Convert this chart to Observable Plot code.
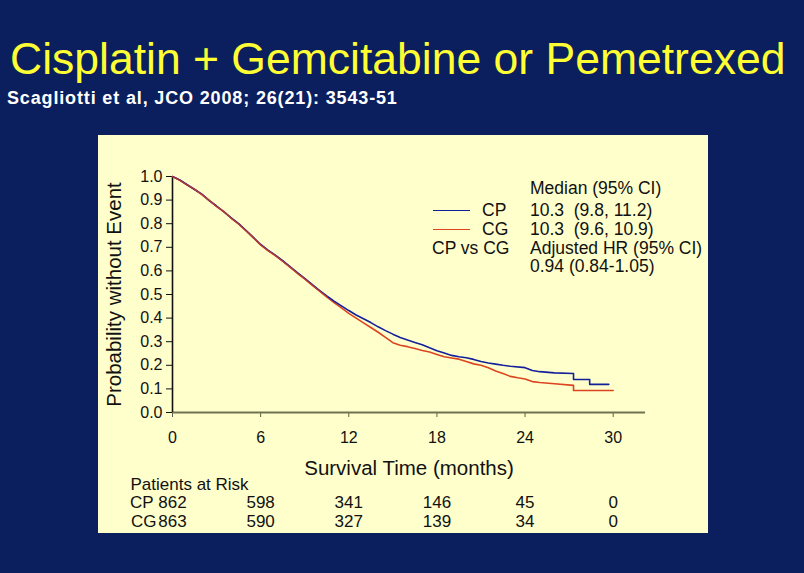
<!DOCTYPE html>
<html>
<head>
<meta charset="utf-8">
<script src="https://cdn.jsdelivr.net/npm/d3@7"></script>
<script src="https://cdn.jsdelivr.net/npm/@observablehq/plot@0.6"></script>
<style>
  html, body { margin: 0; padding: 0; }
  body { width: 804px; height: 573px; background: #0b1f5e; position: relative; overflow: hidden;
         font-family: "Liberation Sans", Arial, sans-serif; }
  #title { position: absolute; left: 10px; top: 37px; font-size: 44.5px; line-height: 44.5px;
           color: #ffff33; white-space: nowrap; }
  #subtitle { position: absolute; left: 7px; top: 89px; font-size: 18px; line-height: 18px; font-weight: bold;
              color: #ffffff; white-space: nowrap; letter-spacing: 0.85px; }
  #panel { position: absolute; left: 98px; top: 135px; width: 610px; height: 398px; background: #ffffcc; }
  #panel svg { position: absolute; left: 0; top: 0; overflow: visible; }
  #panel g[aria-label="x-axis label"] text, #panel g[aria-label="y-axis label"] text { font-size: 20.5px; }
  .lg { position: absolute; font-size: 17.5px; line-height: 16px; color: #111; white-space: pre; }
  .sw { position: absolute; height: 0; width: 37px; border-top: 1.6px solid; }
</style>
</head>
<body>
<div id="title">Cisplatin + Gemcitabine or Pemetrexed</div>
<div id="subtitle">Scagliotti et al, JCO 2008; 26(21): 3543-51</div>
<div id="panel"></div>
<script>
// ---- data ----
const cpMonths = [0,0.5,1,1.5,2,2.5,3,3.5,4,4.5,5,5.5,6,6.5,7,7.5,8,8.5,9,9.5,10,10.5,11,11.5,12,12.5,13,13.5,14,14.5,15,15.5,16,16.5,17,17.5,18,18.5,19,19.5,20,20.5,21,21.5,22,22.5,23,24,24.5,25,26,27.3,27.3,28.4,28.4,29.7];
const cpSurv   = [1,0.985,0.965,0.945,0.925,0.898,0.875,0.85,0.825,0.8,0.772,0.742,0.712,0.688,0.667,0.643,0.618,0.593,0.568,0.543,0.518,0.494,0.472,0.452,0.432,0.413,0.397,0.381,0.363,0.347,0.332,0.318,0.307,0.297,0.287,0.274,0.262,0.252,0.242,0.236,0.232,0.225,0.216,0.21,0.205,0.2,0.196,0.19,0.178,0.173,0.168,0.165,0.14,0.14,0.119,0.119];
const cgMonths = [0,0.5,1,1.5,2,2.5,3,3.5,4,4.5,5,5.5,6,6.5,7,7.5,8,8.5,9,9.5,10,10.5,11,11.5,12,12.5,13,13.5,14,14.5,15,15.5,16,16.5,17,17.5,18,18.5,19,19.5,20,20.5,21,21.5,22,22.5,23,23.5,24,24.5,25,26,27.3,27.3,30];
const cgSurv   = [1,0.984,0.964,0.946,0.923,0.899,0.873,0.851,0.823,0.799,0.77,0.741,0.71,0.686,0.665,0.641,0.616,0.59,0.566,0.54,0.515,0.49,0.466,0.443,0.42,0.4,0.38,0.36,0.34,0.318,0.296,0.285,0.279,0.271,0.263,0.256,0.246,0.236,0.231,0.226,0.216,0.206,0.2,0.19,0.176,0.165,0.153,0.147,0.142,0.131,0.127,0.122,0.115,0.093,0.093];

const xTicks = [0, 6, 12, 18, 24, 30];
const yTicks = [0, 0.1, 0.2, 0.3, 0.4, 0.5, 0.6, 0.7, 0.8, 0.9, 1.0];

const atRiskMonths = [0, 6, 12, 18, 24, 30];
const cpAtRisk = [862, 598, 341, 146, 45, 0];
const cgAtRisk = [863, 590, 327, 139, 34, 0];
const riskTitle = "Patients at Risk";

const seriesNames = ["CP", "CG"];
const seriesColors = ["#14209a", "#dc4420"];

const legendRows = [
  "Median (95% CI)",
  "10.3  (9.8, 11.2)",
  "10.3  (9.6, 10.9)",
  "Adjusted HR (95% CI)",
  "0.94 (0.84-1.05)"
];

// ---- build tables ----
const cp = cpMonths.map((t, i) => ({t, s: cpSurv[i]}));
const cg = cgMonths.map((t, i) => ({t, s: cgSurv[i]}));

const txt = {frameAnchor: "bottom", fontSize: 17, fill: "#111"};

const chart = Plot.plot({
  width: 610, height: 398,
  marginLeft: 74, marginRight: 63, marginTop: 41, marginBottom: 121,
  style: {background: "transparent", fontFamily: "'Liberation Sans', Arial, sans-serif", fontSize: "16px", color: "#111"},
  x: {domain: [0, 32.2]},
  y: {domain: [0, 1]},
  marks: [
    Plot.axisX(xTicks, {tickSize: 5, tickPadding: 14, stroke: "#5d6140", label: "Survival Time (months)", labelAnchor: "center", labelArrow: "none", labelOffset: 62}),
    Plot.axisY(yTicks, {tickSize: 6, tickPadding: 4, tickFormat: d3.format(".1f"), label: "Probability without Event", labelAnchor: "center", labelArrow: "none", labelOffset: 66}),
    Plot.ruleY([0], {x1: 0, x2: 32.2, stroke: "#6f7450", strokeWidth: 2.2}),
    Plot.ruleX([0], {y1: 0, y2: 1, stroke: "#111", strokeWidth: 1.6}),
    Plot.line(cg, {x: "t", y: "s", stroke: seriesColors[1], strokeWidth: 1.6}),
    Plot.line(cp, {x: "t", y: "s", stroke: seriesColors[0], strokeWidth: 1.6}),
    Plot.line(cg.filter(d => d.t <= 10.5), {x: "t", y: "s", stroke: seriesColors[1], strokeWidth: 1.4, strokeOpacity: 0.8}),
    // at-risk table
    Plot.text([riskTitle], {...txt, x: 0, text: d => d, textAnchor: "start", dx: -42, dy: 77}),
    Plot.text([seriesNames[0]], {...txt, x: 0, text: d => d, textAnchor: "end", dx: -19, dy: 95}),
    Plot.text([seriesNames[1]], {...txt, x: 0, text: d => d, textAnchor: "end", dx: -16, dy: 114}),
    Plot.text(atRiskMonths, {...txt, x: d => d, text: (d, i) => cpAtRisk[i], dy: 95}),
    Plot.text(atRiskMonths, {...txt, x: d => d, text: (d, i) => cgAtRisk[i], dy: 114})
  ]
});
const panel = document.getElementById("panel");
panel.appendChild(chart);

// ---- legend / annotation (panel coordinates) ----
function addText(t, left, baseline) {
  const d = document.createElement("div");
  d.className = "lg";
  d.textContent = t;
  d.style.left = left + "px";
  d.style.top = (baseline - 14) + "px";
  panel.appendChild(d);
}
const lgLeft = 530 - 98;
const baselines = [194, 215.5, 235, 253.5, 272].map(b => b - 135);
legendRows.forEach((r, i) => addText(r, lgLeft, baselines[i]));
seriesNames.forEach((n, i) => {
  addText(n, 482 - 98, baselines[i + 1]);
  const sw = document.createElement("div");
  sw.className = "sw";
  sw.style.left = (433 - 98) + "px";
  sw.style.top = (baselines[i + 1] - 6) + "px";
  sw.style.borderTopColor = seriesColors[i];
  panel.appendChild(sw);
});
addText(seriesNames.join(" vs "), 432 - 98, baselines[3]);
</script>
</body>
</html>
